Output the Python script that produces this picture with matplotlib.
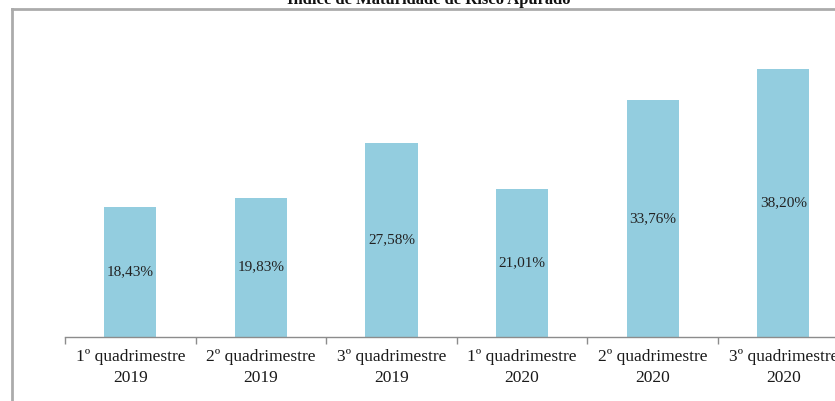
import matplotlib
matplotlib.use("Agg")
import matplotlib.pyplot as plt
from matplotlib.lines import Line2D

plt.rcParams['font.family'] = ['Liberation Serif', 'DejaVu Serif']

# Índice por quadrimestre
categorias = ['1º quadrimestre\n2019', '2º quadrimestre\n2019', '3º quadrimestre\n2019',
              '1º quadrimestre\n2020', '2º quadrimestre\n2020', '3º quadrimestre\n2020']
valores = [18.43, 19.83, 27.58, 21.01, 33.76, 38.20]

W, H = 835, 401
fig = plt.figure(figsize=(W / 100, H / 100), dpi=100)

# axes box in pixels: left 65, baseline 336.5, category width ~130.6
left, base, top = 65, 336.5, 20
cat_w = 130.6
ax = fig.add_axes([left / W, (H - base) / H, 6 * cat_w / W, (base - top) / H])

x = range(len(valores))
bars = ax.bar(x, valores, width=0.4, color='#93cddf', edgecolor='none')
ax.set_xlim(-0.5, 5.5)
ax.set_ylim(0, (base - top) / 7.0)

for b, v in zip(bars, valores):
    txt = f'{v:.2f}'.replace('.', ',') + '%'
    ax.text(b.get_x() + b.get_width() / 2, v / 2, txt,
            ha='center', va='center', fontsize=11, color='#222222')

for s in ['top', 'right', 'left']:
    ax.spines[s].set_visible(False)
ax.spines['bottom'].set_color('#8c8c8c')
ax.spines['bottom'].set_linewidth(1.0)
ax.set_yticks([])

ax.set_xticks(list(x))
ax.set_xticklabels(categorias, fontsize=12.5, linespacing=1.45, color='#1a1a1a')
ax.tick_params(axis='x', which='major', length=0, pad=9)
ax.set_xticks([i - 0.5 for i in range(7)], minor=True)
ax.tick_params(axis='x', which='minor', length=5, color='#8c8c8c', width=1.0)

# moldura cinza do gráfico
fx, fy = 12 / W, 1 - 8.5 / H
fig.add_artist(Line2D([fx, 1], [fy, fy], color='#ababab', lw=2, transform=fig.transFigure))
fig.add_artist(Line2D([fx, fx], [0, fy], color='#ababab', lw=2, transform=fig.transFigure))

fig.text(429 / W, 1 - 3.5 / H, 'Índice de Maturidade de Risco Apurado',
         ha='center', va='baseline', fontsize=12, fontweight='bold', color='#111111')

fig.savefig('out.png', dpi=100)
